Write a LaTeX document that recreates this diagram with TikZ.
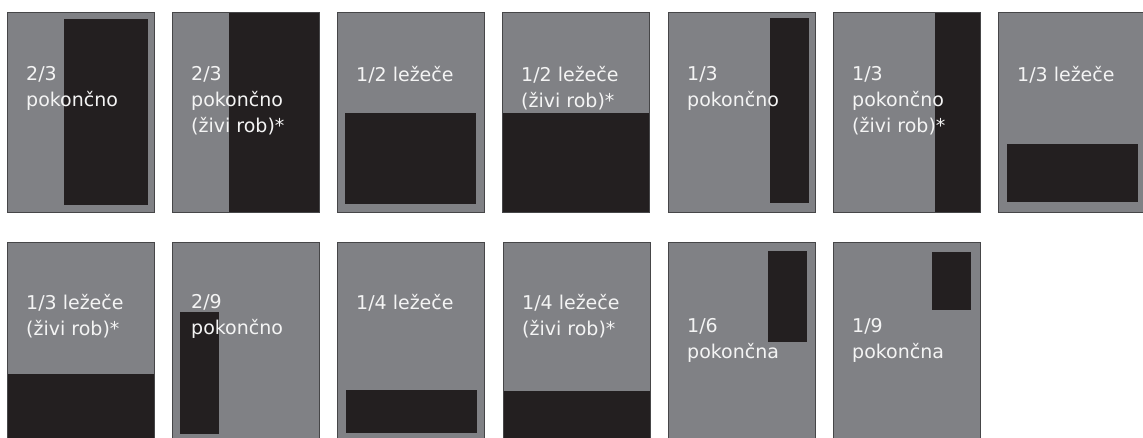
\documentclass[tikz,border=0pt]{standalone}
\usepackage{fontspec}
\setmainfont{DejaVu Sans}
\usepackage{tikz}
\usetikzlibrary{positioning}
\definecolor{pagegray}{RGB}{128,129,133}
\definecolor{adblack}{RGB}{35,31,32}
\definecolor{edgegray}{RGB}{70,70,72}
\definecolor{captionwhite}{RGB}{244,244,244}
\tikzset{
  page/.style={fill=pagegray},
  pageedge/.style={draw=edgegray, line width=1pt},
  adblock/.style={fill=adblack},
  caption/.style={text=captionwhite, anchor=north west, inner sep=0pt, align=left,
                  font=\fontsize{19}{26}\selectfont},
}

\begin{document}
\begin{tikzpicture}[x=1pt, y=-1pt]
\clip (0,0) rectangle (1143,437);
% one page per entry: page corner, ad corners, caption top, caption
\foreach \n/\px/\py/\ax/\ay/\bx/\by/\top/\txt in {
  a/7/12/64/19/148/205/66/{2/3\\pokončno},
  b/172/12/229/12/319/212/66/{2/3\\pokončno\\(živi rob)*},
  c/337/12/345/113/476/204/66/{1/2 ležeče},
  d/502/12/502/113/649/212/66/{1/2 ležeče\\(živi rob)*},
  e/668/12/770/18/809/203/66/{1/3\\pokončno},
  f/833/12/935/12/980/212/66/{1/3\\pokončno\\(živi rob)*},
  g/998/12/1007/144/1138/202/66/{1/3 ležeče},
  h/7/242/7/374/154/442/294/{1/3 ležeče\\(živi rob)*},
  i/172/242/180/312/219/434/294/{2/9\\pokončno},
  j/337/242/346/390/477/433/294/{1/4 ležeče},
  k/503/242/503/391/650/442/294/{1/4 ležeče\\(živi rob)*},
  l/668/242/768/251/807/342/318/{1/6\\pokončna},
  m/833/242/932/252/971/310/318/{1/9\\pokončna}}
{
  \fill[page] (\px,\py) rectangle ++(147,200);
  \fill[adblock] (\ax,\ay) rectangle (\bx,\by);
  \draw[pageedge] (\px,\py) rectangle ++(147,200);
  \node[caption] (cap\n) at (\px+19,\top) {\txt};
}
\end{tikzpicture}
\end{document}
